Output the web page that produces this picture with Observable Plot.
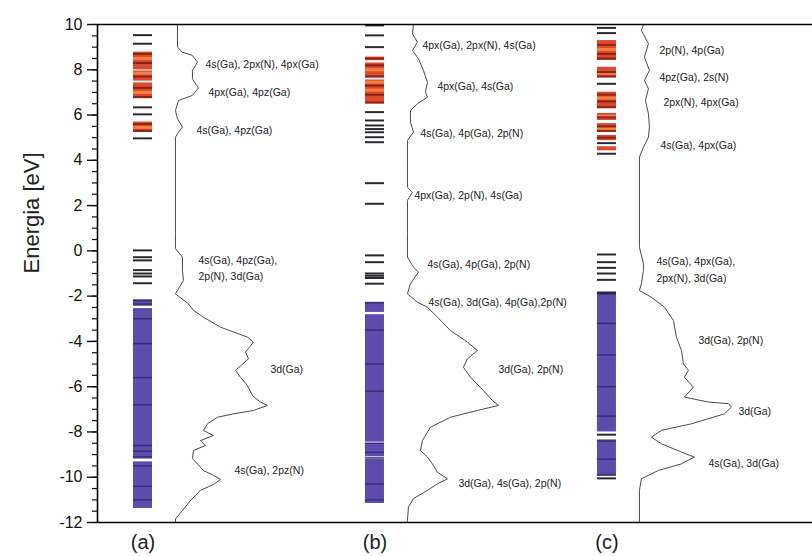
<!DOCTYPE html>
<html>
<head>
<meta charset="utf-8">
<script src="https://cdn.jsdelivr.net/npm/d3@7"></script>
<script src="https://cdn.jsdelivr.net/npm/@observablehq/plot@0.6"></script>
<style>
  body { margin: 0; background: #fff; }
  #chart svg { font-family: "Liberation Sans", Arial, sans-serif; }
</style>
</head>
<body>
<div id="chart"></div>
<script>
// Panels: three cluster models, each with its level diagram and density of states
const panels = ["(a)", "(b)", "(c)"];
const yTicks = [-12, -10, -8, -6, -4, -2, 0, 2, 4, 6, 8, 10];
const yMinor = d3.range(-12, 10.01, 0.5);

// Isolated energy levels (eV)
const levelsA = [9.53, 9.15, 6.34, 6.03, 4.97, 0.02, -0.28, -0.42, -0.85, -1.0, -1.13, -1.43];
const levelsB = [9.96, 9.52, 9.0, 6.13, 5.76, 5.54, 5.38, 5.24, 5.02, 4.8, 2.99, 2.08, -0.2, -0.5, -1.0, -1.1, -1.2, -1.45];
const levelsC = [9.85, 9.62, 7.38, 4.76, 4.29, -0.16, -0.5, -0.75, -1.0, -1.28, -1.85, -8.12, -10.05];

// Quasi-continuous bands of unoccupied levels [low, high] (eV)
const emptyBandsA = [[8.0, 8.78], [7.5, 7.95], [6.72, 7.42], [5.24, 5.69]];
const emptyBandsB = [[8.4, 8.56], [7.65, 8.3], [6.5, 7.55]];
const emptyBandsC = [[8.41, 9.29], [7.67, 8.11], [6.28, 7.01], [5.76, 6.07], [5.24, 5.62], [4.87, 5.1], [4.42, 4.6]];

// Quasi-continuous bands of occupied levels [low, high] (eV)
const filledBandsA = [[-2.45, -2.16], [-9.2, -2.55], [-11.38, -9.32]];
const filledBandsB = [[-2.72, -2.27], [-8.45, -2.82], [-9.1, -8.55], [-11.16, -9.22]];
const filledBandsC = [[-8.0, -1.82], [-9.95, -8.35]];

// Darker individual levels inside the bands (eV)
const emptyStreaksA = [8.7, 8.3, 7.7, 7.2, 6.8, 5.6, 5.3];
const emptyStreaksB = [8.5, 8.2, 7.7, 7.3, 6.9, 6.55];
const emptyStreaksC = [9.1, 8.7, 8.5, 7.9, 7.7, 6.9, 6.6, 6.35, 5.9, 5.5, 5.3, 5.0];
const filledStreaksA = [-2.2, -2.35, -3.0, -4.1, -5.6, -6.8, -8.6, -8.85, -9.1, -9.5, -10.4, -11.0];
const filledStreaksB = [-2.3, -3.5, -5.0, -6.2, -8.5, -8.9, -9.15, -10.3, -11.0];
const filledStreaksC = [-1.9, -3.2, -4.6, -6.0, -7.3, -8.4, -9.2, -9.9];

// Brighter individual levels inside the unoccupied bands (eV)
const emptyGlowA = [8.5, 7.85, 7.0, 5.45];
const emptyGlowB = [8.0, 7.45, 7.1];
const emptyGlowC = [8.9, 7.85, 6.75, 5.95, 5.4];

// Density of states: [energy (eV), DOS (arb. units)]
const dosA = [
  [10, 0.02], [9.0, 0.02], [8.78, 0.07], [8.63, 0.17], [8.34, 0.22], [7.97, 0.17], [7.6, 0.17],
  [7.2, 0.23], [6.87, 0.17], [6.64, 0.03], [6.2, 0.0], [5.84, 0.02], [5.47, 0.07], [5.24, 0.03],
  [5.02, 0.0], [0.77, 0.0], [0.1, 0.0], [-0.28, 0.07], [-0.87, 0.07], [-1.31, 0.08], [-1.9, 0.0],
  [-2.34, 0.13], [-2.63, 0.18], [-2.93, 0.28], [-3.37, 0.45], [-3.81, 0.72], [-4.03, 0.78],
  [-4.47, 0.70], [-4.77, 0.73], [-5.28, 0.60], [-5.58, 0.65], [-5.95, 0.72], [-6.39, 0.77],
  [-6.68, 0.85], [-6.83, 0.92], [-7.05, 0.78], [-7.2, 0.58], [-7.35, 0.42], [-7.64, 0.32],
  [-7.93, 0.28], [-8.16, 0.38], [-8.38, 0.25], [-8.6, 0.30], [-8.82, 0.18], [-9.18, 0.17],
  [-9.41, 0.22], [-9.7, 0.28], [-9.92, 0.38], [-10.1, 0.45], [-10.32, 0.38], [-10.58, 0.25],
  [-11.03, 0.15], [-11.47, 0.07], [-11.84, 0.0], [-12, 0.0]
];
const dosB = [
  [10, 0.06], [9.59, 0.05], [9.22, 0.10], [8.85, 0.05], [8.49, 0.11], [7.97, 0.16], [7.45, 0.20],
  [7.01, 0.18], [6.79, 0.20], [6.5, 0.10], [6.2, 0.03], [5.69, 0.03], [5.24, 0.06], [4.88, 0.0],
  [3.7, 0.0], [2.81, 0.0], [2.59, 0.05], [2.23, 0.0], [0.76, 0.0], [-0.28, 0.0], [-0.72, 0.06],
  [-0.94, 0.11], [-1.45, 0.03], [-1.9, 0.0], [-2.27, 0.10], [-2.49, 0.20], [-2.93, 0.30],
  [-3.52, 0.43], [-4.03, 0.60], [-4.4, 0.70], [-4.77, 0.60], [-5.14, 0.56], [-5.58, 0.63],
  [-6.17, 0.76], [-6.61, 0.85], [-6.83, 0.91], [-7.05, 0.70], [-7.35, 0.43], [-7.79, 0.23],
  [-8.38, 0.15], [-8.82, 0.13], [-9.11, 0.20], [-9.48, 0.26], [-9.78, 0.30], [-10.07, 0.40],
  [-10.29, 0.30], [-10.58, 0.20], [-10.95, 0.06], [-11.32, 0.01], [-11.91, 0.0], [-12, 0.0]
];
const dosC = [
  [10, 0.04], [9.74, 0.02], [9.15, 0.09], [8.56, 0.05], [7.97, 0.10], [7.53, 0.05], [7.16, 0.09],
  [6.64, 0.06], [6.06, 0.09], [5.47, 0.10], [5.02, 0.09], [4.58, 0.04], [4.14, 0.0], [0.16, 0.0],
  [-0.57, 0.04], [-0.87, 0.04], [-1.45, 0.02], [-1.75, 0.0], [-2.05, 0.12], [-2.49, 0.25],
  [-3.07, 0.34], [-3.81, 0.37], [-4.4, 0.42], [-4.99, 0.44], [-5.28, 0.49], [-5.58, 0.45],
  [-6.02, 0.54], [-6.46, 0.45], [-6.68, 0.69], [-6.75, 0.89], [-6.9, 0.92], [-7.2, 0.85],
  [-7.64, 0.52], [-7.93, 0.22], [-8.23, 0.12], [-8.52, 0.22], [-8.89, 0.42], [-9.11, 0.55],
  [-9.41, 0.42], [-9.7, 0.19], [-10.07, 0.02], [-10.58, 0.0], [-12, 0.0]
];

// Orbital character of the main features: [energy (eV), DOS position, text]
const notesA = [
  [8.3, 0.30, "4s(Ga), 2px(N), 4px(Ga)"],
  [7.1, 0.33, "4px(Ga), 4pz(Ga)"],
  [5.4, 0.21, "4s(Ga), 4pz(Ga)"],
  [-0.7, 0.23, "4s(Ga), 4pz(Ga),\n2p(N), 3d(Ga)"],
  [-5.14, 0.95, "3d(Ga)"],
  [-9.6, 0.59, "4s(Ga), 2pz(N)"]
];
const notesB = [
  [9.17, 0.15, "4px(Ga), 2px(N), 4s(Ga)"],
  [7.35, 0.30, "4px(Ga), 4s(Ga)"],
  [5.28, 0.13, "4s(Ga), 4p(Ga), 2p(N)"],
  [2.54, 0.07, "4px(Ga), 2p(N), 4s(Ga)"],
  [-0.51, 0.20, "4s(Ga), 4p(Ga), 2p(N)"],
  [-2.19, 0.21, "4s(Ga), 3d(Ga), 4p(Ga),2p(N)"],
  [-5.14, 0.91, "3d(Ga), 2p(N)"],
  [-10.2, 0.51, "3d(Ga), 4s(Ga), 2p(N)"]
];
const notesC = [
  [8.95, 0.20, "2p(N), 4p(Ga)"],
  [7.75, 0.20, "4pz(Ga), 2s(N)"],
  [6.64, 0.24, "2px(N), 4px(Ga)"],
  [4.74, 0.21, "4s(Ga), 4px(Ga)"],
  [-0.75, 0.17, "4s(Ga), 4px(Ga),\n2px(N), 3d(Ga)"],
  [-3.87, 0.59, "3d(Ga), 2p(N)"],
  [-7.0, 0.99, "3d(Ga)"],
  [-9.3, 0.69, "4s(Ga), 3d(Ga)"]
];

// Layout inside one panel (panel width = 1 x-unit)
const COL0 = 0.155, COL1 = 0.237;     // level column
const DOS0 = 0.336, DOS_K = 0.431;    // DOS baseline and scale
const XMAX = 3.082;

const byPanel = (lists, f) => lists.flatMap((list, i) => list.map(v => f(v, i)));

const levels = byPanel([levelsA, levelsB, levelsC], (e, i) => ({panel: i, e}));
const emptyBands = byPanel([emptyBandsA, emptyBandsB, emptyBandsC], ([lo, hi], i) => ({panel: i, lo, hi}));
const filledBands = byPanel([filledBandsA, filledBandsB, filledBandsC], ([lo, hi], i) => ({panel: i, lo, hi}));
const emptyStreaks = byPanel([emptyStreaksA, emptyStreaksB, emptyStreaksC], (e, i) => ({panel: i, e}));
const emptyGlow = byPanel([emptyGlowA, emptyGlowB, emptyGlowC], (e, i) => ({panel: i, e}));
const filledStreaks = byPanel([filledStreaksA, filledStreaksB, filledStreaksC], (e, i) => ({panel: i, e}));
const dos = byPanel([dosA, dosB, dosC], ([e, d], i) => ({panel: i, e, d}));
const notes = byPanel([notesA, notesB, notesC], ([e, d, text], i) => ({panel: i, e, d, text}));

const colX1 = r => r.panel + COL0;
const colX2 = r => r.panel + COL1;
const dosX = r => r.panel + DOS0 + r.d * DOS_K;

const chart = Plot.plot({
  width: 812,
  height: 556,
  marginLeft: 97,
  marginRight: 0,
  marginTop: 24,
  marginBottom: 34,
  x: {domain: [0, XMAX], axis: null},
  y: {domain: [-12, 10]},
  style: {fontFamily: "Liberation Sans, Arial, sans-serif", color: "#111"},
  marks: [
    // level columns
    Plot.rect(emptyBands, {x1: colX1, x2: colX2, y1: "lo", y2: "hi", fill: "#db4a2f"}),
    Plot.ruleY(emptyGlow, {y: "e", x1: colX1, x2: colX2, stroke: "#f4823f", strokeWidth: 3}),
    Plot.ruleY(emptyStreaks, {y: "e", x1: colX1, x2: colX2, stroke: "#8a2419", strokeWidth: 2}),
    Plot.rect(filledBands, {x1: colX1, x2: colX2, y1: "lo", y2: "hi", fill: "#5d4cab"}),
    Plot.ruleY(filledStreaks, {y: "e", x1: colX1, x2: colX2, stroke: "#3a2d78", strokeWidth: 1.5}),
    Plot.ruleY(levels, {y: "e", x1: colX1, x2: colX2, stroke: "#2c2833", strokeWidth: 2}),
    // density of states
    Plot.line(dos, {x: dosX, y: "e", z: "panel", stroke: "#4a4a4a", strokeWidth: 1}),
    // orbital character labels
    Plot.text(notes, {x: dosX, y: "e", text: "text", textAnchor: "start", fontSize: 10.5,
      lineHeight: 1.6, fill: "#222"}),
    // frame and axis
    Plot.ruleY([10, -12], {stroke: "#000", strokeWidth: 1.6}),
    Plot.ruleX([0], {stroke: "#000", strokeWidth: 1.6}),
    Plot.axisY(yMinor, {tickSize: 5, tickFormat: () => "", strokeWidth: 1.2}),
    Plot.axisY(yTicks, {tickSize: 10, tickPadding: 5, tickFormat: d => String(d), fontSize: 16,
      label: null, strokeWidth: 1.4}),
    Plot.text(["Energia [eV]"], {frameAnchor: "left", rotate: -90, dx: -66, fontSize: 22, fill: "#222"}),
    // panel letters
    Plot.text(panels, {x: (d, i) => i + (COL0 + COL1) / 2, y: () => -12, dy: 20, fontSize: 20,
      lineAnchor: "middle", fill: "#222"})
  ]
});

document.getElementById("chart").appendChild(chart);
</script>
</body>
</html>
